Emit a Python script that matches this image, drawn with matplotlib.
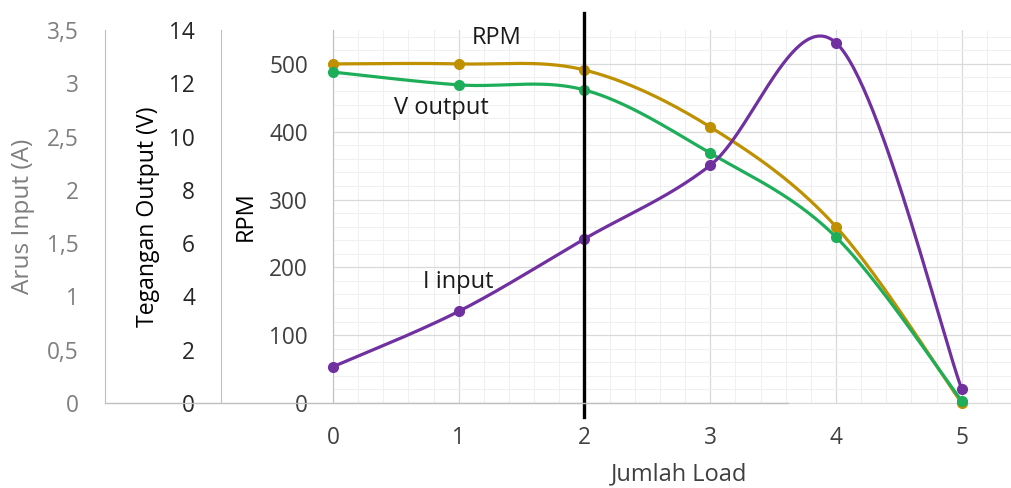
import numpy as np
import matplotlib
matplotlib.use("Agg")
import matplotlib.pyplot as plt
from matplotlib.lines import Line2D

plt.rcParams['font.family'] = ['Open Sans', 'DejaVu Sans']

# Measured data per load step
jumlah_load = [0, 1, 2, 3, 4, 5]
rpm = [500, 500, 491, 407, 260, 0]
v_output = [12.42, 11.94, 11.75, 9.38, 6.23, 0.08]
i_input = [0.34, 0.86, 1.54, 2.23, 3.38, 0.13]

x_ticks = [0, 1, 2, 3, 4, 5]
rpm_ticks = [0, 100, 200, 300, 400, 500]
v_ticks = [0, 2, 4, 6, 8, 10, 12, 14]
i_ticks = [0, 0.5, 1, 1.5, 2, 2.5, 3, 3.5]
i_tick_labels = ["0", "0,5", "1", "1,5", "2", "2,5", "3", "3,5"]

GOLD = "#BF9000"
GREEN = "#1EAE5A"
PURPLE = "#7030A0"
GRAY_TXT = "#7F7F7F"
DARK_TXT = "#404040"

TICK_FS = 16.3
TITLE_FS = 17


def smooth(xs, ys, n=60):
    """Spreadsheet-style smoothed line: Catmull-Rom cubic Bezier segments."""
    p = np.column_stack([xs, ys]).astype(float)
    out = []
    for i in range(len(p) - 1):
        p0 = p[i - 1] if i > 0 else p[i]
        p1, p2 = p[i], p[i + 1]
        p3 = p[i + 2] if i + 2 < len(p) else p[i + 1]
        c1 = p1 + (p2 - p0) / 6.0
        c2 = p2 - (p3 - p1) / 6.0
        t = np.linspace(0, 1, n)[:, None]
        seg = ((1 - t) ** 3) * p1 + 3 * ((1 - t) ** 2) * t * c1 \
            + 3 * (1 - t) * t ** 2 * c2 + t ** 3 * p2
        out.append(seg if i == 0 else seg[1:])
    out = np.vstack(out)
    return out[:, 0], out[:, 1]


W, H = 1012, 488
fig = plt.figure(figsize=(W / 100, H / 100), dpi=100)
left_px, right_px, top_px, bottom_px = 333, 1012, 30, 403
ax = fig.add_axes([left_px / W, 1 - bottom_px / H,
                   (right_px - left_px) / W, (bottom_px - top_px) / H])
ax_v = ax.twinx()
ax_i = ax.twinx()

PX = 0.72  # points per pixel at 100 dpi

# main RPM axis
ax.set_xlim(0, 5.4)
ax.set_ylim(0, 550)
ax.set_xticks(x_ticks)
ax.set_yticks(rpm_ticks)
ax.set_xticks(np.arange(0, 5.41, 0.2), minor=True)
ax.set_yticks(np.arange(0, 551, 20), minor=True)
ax.grid(which='major', color='#D9D9D9', linewidth=0.9)
ax.grid(which='minor', color='#F0F0F0', linewidth=0.8)
ax.set_axisbelow(True)
ax.tick_params(which='both', length=0)
ax.tick_params(axis='y', pad=25 * PX, labelsize=TICK_FS, labelcolor=DARK_TXT)
ax.tick_params(axis='x', pad=23 * PX, labelsize=TICK_FS, labelcolor=DARK_TXT)
for s in ['top', 'right']:
    ax.spines[s].set_visible(False)
ax.spines['left'].set_color('#BFBFBF')
ax.spines['bottom'].set_color('#D9D9D9')

# offset left axes for voltage and current
for a, offset_px, lim, ticks in [(ax_v, 112, (0, 14), v_ticks),
                                 (ax_i, 228, (0, 3.5), i_ticks)]:
    a.set_ylim(*lim)
    a.yaxis.set_ticks_position('left')
    a.spines['left'].set_visible(True)
    a.spines['left'].set_position(('outward', offset_px * PX))
    a.spines['left'].set_color('#BFBFBF')
    for s in ['top', 'right', 'bottom']:
        a.spines[s].set_visible(False)
    a.set_yticks(ticks)
    a.tick_params(axis='y', length=0, pad=26 * PX, labelsize=TICK_FS)

ax_v.tick_params(axis='y', labelcolor='#262626')
ax_i.set_yticklabels(i_tick_labels)
ax_i.tick_params(axis='y', labelcolor=GRAY_TXT)

# baseline running under the offset axes
fig.add_artist(Line2D([105 / W, 788 / W], [1 - bottom_px / H] * 2,
                      color='#BFBFBF', linewidth=1.0, zorder=0.5))

# axis titles
fig.text(679 / W, 1 - 474 / H, "Jumlah Load", ha='center', va='center',
         fontsize=TITLE_FS, color=DARK_TXT)
fig.text(23 / W, 1 - 216 / H, "Arus Input (A)", rotation=90, ha='center',
         va='center', fontsize=TITLE_FS + 0.6, color=GRAY_TXT)
fig.text(148 / W, 1 - 217 / H, "Tegangan Output (V)", rotation=90,
         ha='center', va='center', fontsize=TITLE_FS - 0.4, color='black')
fig.text(246 / W, 1 - 216 / H, "RPM", rotation=90, ha='center', va='center',
         fontsize=TITLE_FS, color='black')

# series
lw, ms = 2.3, 7
sx, sy = smooth(jumlah_load, rpm)
ax.plot(sx, sy, color=GOLD, linewidth=lw, zorder=3)
ax.plot(jumlah_load, rpm, 'o', color=GOLD, markersize=ms, zorder=3,
        clip_on=False)

sx, sy = smooth(jumlah_load, v_output)
ax_v.plot(sx, sy, color=GREEN, linewidth=lw, zorder=3)
ax_v.plot(jumlah_load, v_output, 'o', color=GREEN, markersize=ms, zorder=3,
          clip_on=False)

sx, sy = smooth(jumlah_load, i_input)
ax_i.plot(sx, sy, color=PURPLE, linewidth=lw, zorder=3)
ax_i.plot(jumlah_load, i_input, 'o', color=PURPLE, markersize=ms, zorder=3,
          clip_on=False)

# series annotations (RPM data coordinates)
ax.text(1.30, 538, "RPM", ha='center', va='center', fontsize=TITLE_FS,
        color='#1a1a1a')
ax.text(0.86, 435, "V output", ha='center', va='center', fontsize=TITLE_FS,
        color='#1a1a1a')
ax.text(1.0, 178, "I input", ha='center', va='center', fontsize=TITLE_FS,
        color='#1a1a1a')

# vertical marker at 2 loads, drawn above all series
ax_i.plot([2, 2], [-20, 575], color='black', linewidth=2.4,
          transform=ax.transData, clip_on=False, zorder=10)

fig.savefig("out.png", dpi=100)
